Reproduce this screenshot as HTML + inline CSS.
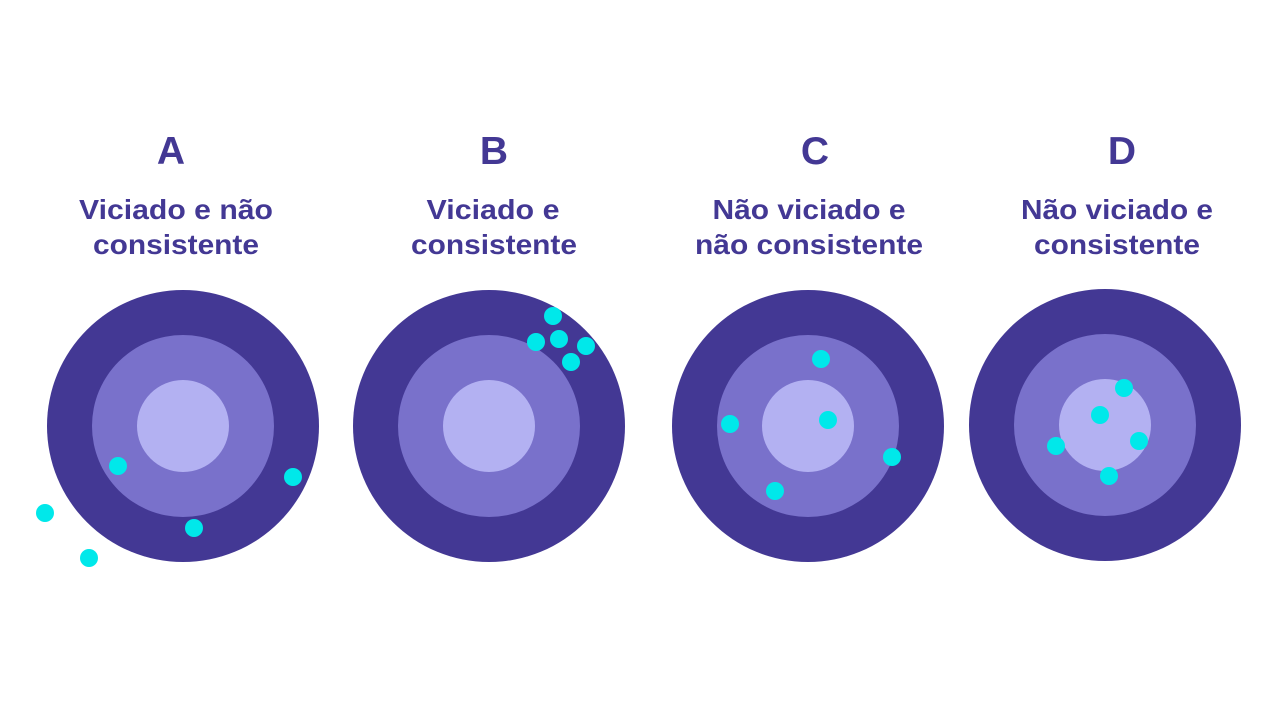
<!DOCTYPE html>
<html><head><meta charset="utf-8"><style>
html,body{margin:0;padding:0;background:#fff;}
svg{display:block}
text{font-family:"Liberation Sans",sans-serif;font-weight:bold;fill:#433894;text-anchor:middle}
</style></head><body>
<svg width="1277" height="716" viewBox="0 0 1277 716" xmlns="http://www.w3.org/2000/svg">
<circle cx="183" cy="426" r="136" fill="#433894"/>
<circle cx="183" cy="426" r="91" fill="#7971cb"/>
<circle cx="183" cy="426" r="46" fill="#b3b1f2"/>
<circle cx="489" cy="426" r="136" fill="#433894"/>
<circle cx="489" cy="426" r="91" fill="#7971cb"/>
<circle cx="489" cy="426" r="46" fill="#b3b1f2"/>
<circle cx="808" cy="426" r="136" fill="#433894"/>
<circle cx="808" cy="426" r="91" fill="#7971cb"/>
<circle cx="808" cy="426" r="46" fill="#b3b1f2"/>
<circle cx="1105" cy="425" r="136" fill="#433894"/>
<circle cx="1105" cy="425" r="91" fill="#7971cb"/>
<circle cx="1105" cy="425" r="46" fill="#b3b1f2"/>
<g fill="#00e8ea">
<circle cx="118" cy="466" r="9"/><circle cx="293" cy="477" r="9"/><circle cx="194" cy="528" r="9"/><circle cx="45" cy="513" r="9"/><circle cx="89" cy="558" r="9"/>
<circle cx="553" cy="316" r="9"/><circle cx="559" cy="339" r="9"/><circle cx="536" cy="342" r="9"/><circle cx="586" cy="346" r="9"/><circle cx="571" cy="362" r="9"/>
<circle cx="821" cy="359" r="9"/><circle cx="730" cy="424" r="9"/><circle cx="828" cy="420" r="9"/><circle cx="892" cy="457" r="9"/><circle cx="775" cy="491" r="9"/>
<circle cx="1124" cy="388" r="9"/><circle cx="1100" cy="415" r="9"/><circle cx="1056" cy="446" r="9"/><circle cx="1139" cy="441" r="9"/><circle cx="1109" cy="476" r="9"/>
</g>
<g font-size="39">
<text x="171" y="164">A</text><text x="494" y="164">B</text><text x="815" y="164">C</text><text x="1122" y="164">D</text>
</g>
<g font-size="28">
<text x="176" y="219" textLength="194" lengthAdjust="spacingAndGlyphs">Viciado e não</text><text x="176" y="254" textLength="166" lengthAdjust="spacingAndGlyphs">consistente</text>
<text x="493" y="219" textLength="133" lengthAdjust="spacingAndGlyphs">Viciado e</text><text x="494" y="254" textLength="166" lengthAdjust="spacingAndGlyphs">consistente</text>
<text x="809" y="219" textLength="193" lengthAdjust="spacingAndGlyphs">Não viciado e</text><text x="809" y="254" textLength="228" lengthAdjust="spacingAndGlyphs">não consistente</text>
<text x="1117" y="219" textLength="192" lengthAdjust="spacingAndGlyphs">Não viciado e</text><text x="1117" y="254" textLength="166" lengthAdjust="spacingAndGlyphs">consistente</text>
</g>
</svg>
</body></html>
